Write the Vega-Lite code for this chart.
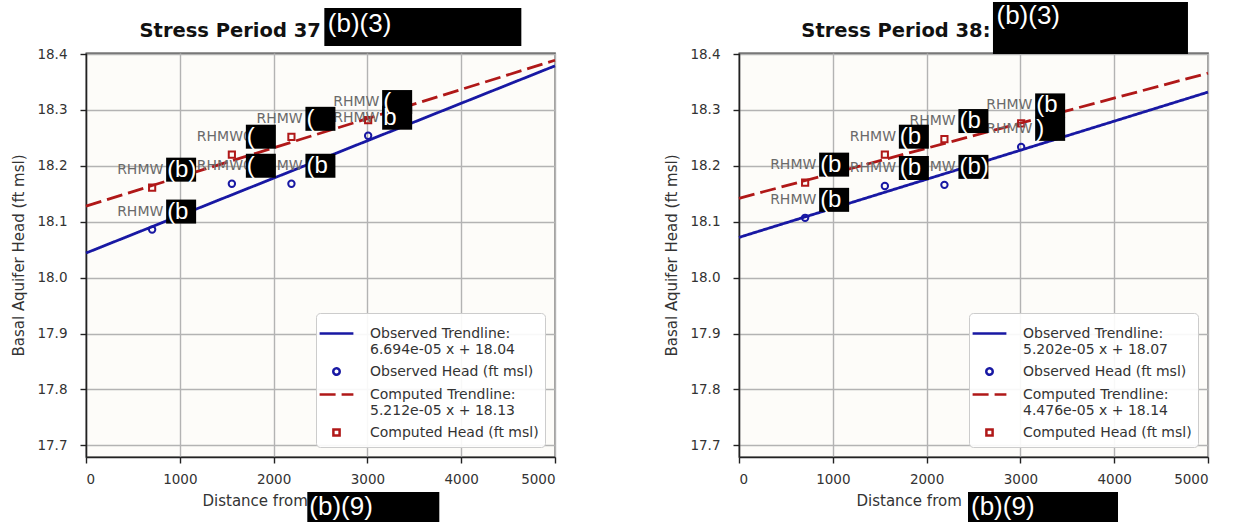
{
  "$schema": "https://vega.github.io/schema/vega-lite/v6.json",
  "background": "white",
  "padding": {"left": 11, "top": 1, "right": 5, "bottom": 0},
  "spacing": 102,
  "config": {
    "font": "DejaVu Sans",
    "view": {"stroke": "#333333", "strokeWidth": 1.3, "fill": "#fdfcf9"},
    "axis": {
      "labelFont": "DejaVu Sans", "labelFontSize": 13.5, "labelColor": "#333333",
      "titleFont": "DejaVu Sans", "titleFontSize": 15, "titleFontWeight": "normal", "titleColor": "#333333",
      "gridColor": "#b3b3b3", "gridWidth": 1.4, "domainColor": "#222222", "domainWidth": 1.5,
      "tickColor": "#222222", "tickWidth": 1.4, "tickSize": 6
    },
    "legend": {
      "orient": "bottom-right", "offset": 10, "title": null,
      "fillColor": "rgba(255,255,255,0.9)", "strokeColor": "#cccccc", "cornerRadius": 4, "padding": 6,
      "labelFont": "DejaVu Sans", "labelFontSize": 14, "labelColor": "#333333", "labelLimit": 400,
      "labelOffset": 19, "rowPadding": 0, "symbolStrokeWidth": 2.5, "symbolSize": 676
    }
  },
  "datasets": {
    "trend37": [
      {"series": "Observed Trendline:|6.694e-05 x + 18.04", "x": 0, "y": 18.044},
      {"series": "Observed Trendline:|6.694e-05 x + 18.04", "x": 5000, "y": 18.379},
      {"series": "Computed Trendline:|5.212e-05 x + 18.13", "x": 0, "y": 18.128},
      {"series": "Computed Trendline:|5.212e-05 x + 18.13", "x": 5000, "y": 18.389}
    ],
    "pts37": [
      {"series": "Observed Head (ft msl)", "x": 705, "y": 18.086},
      {"series": "Observed Head (ft msl)", "x": 1555, "y": 18.168},
      {"series": "Observed Head (ft msl)", "x": 2190, "y": 18.168},
      {"series": "Observed Head (ft msl)", "x": 3008, "y": 18.254},
      {"series": "Computed Head (ft msl)", "x": 705, "y": 18.161},
      {"series": "Computed Head (ft msl)", "x": 1555, "y": 18.22},
      {"series": "Computed Head (ft msl)", "x": 2190, "y": 18.252},
      {"series": "Computed Head (ft msl)", "x": 3008, "y": 18.282}
    ],
    "lab37": [
      {"x": 705, "y": 18.161, "name": "RHMW", "red": "(b)"},
      {"x": 705, "y": 18.086, "name": "RHMW", "red": "(b"},
      {"x": 1555, "y": 18.22, "name": "RHMW0", "red": "("},
      {"x": 1555, "y": 18.168, "name": "RHMW0", "red": "("},
      {"x": 2190, "y": 18.252, "name": "RHMW", "red": "("},
      {"x": 2190, "y": 18.168, "name": "RHMW", "red": "(b"},
      {"x": 3008, "y": 18.282, "name": "RHMW", "red": "("},
      {"x": 3008, "y": 18.254, "name": "RHMW", "red": "b"}
    ],
    "tb37": [{"x": 3591, "y": 18.4485, "red": "(b)(3)", "title": "Stress Period 37"}],
    "ab37": [{"x": 3063, "y": 17.5896, "red": "(b)(9)"}],
    "trend38": [
      {"series": "Observed Trendline:|5.202e-05 x + 18.07", "x": 0, "y": 18.072},
      {"series": "Observed Trendline:|5.202e-05 x + 18.07", "x": 5000, "y": 18.332},
      {"series": "Computed Trendline:|4.476e-05 x + 18.14", "x": 0, "y": 18.142},
      {"series": "Computed Trendline:|4.476e-05 x + 18.14", "x": 5000, "y": 18.366}
    ],
    "pts38": [
      {"series": "Observed Head (ft msl)", "x": 705, "y": 18.107},
      {"series": "Observed Head (ft msl)", "x": 1555, "y": 18.164},
      {"series": "Observed Head (ft msl)", "x": 2190, "y": 18.166},
      {"series": "Observed Head (ft msl)", "x": 3008, "y": 18.234},
      {"series": "Computed Head (ft msl)", "x": 705, "y": 18.17},
      {"series": "Computed Head (ft msl)", "x": 1555, "y": 18.22},
      {"series": "Computed Head (ft msl)", "x": 2190, "y": 18.248},
      {"series": "Computed Head (ft msl)", "x": 3008, "y": 18.276}
    ],
    "lab38": [
      {"x": 705, "y": 18.17, "name": "RHMW", "red": "(b"},
      {"x": 705, "y": 18.107, "name": "RHMW", "red": "(b"},
      {"x": 1555, "y": 18.22, "name": "RHMW", "red": "(b"},
      {"x": 1555, "y": 18.164, "name": "RHMW", "red": "(b"},
      {"x": 2190, "y": 18.248, "name": "RHMW", "red": "(b"},
      {"x": 2190, "y": 18.166, "name": "RHMW", "red": "(b)"},
      {"x": 3008, "y": 18.276, "name": "RHMW", "red": "(b"},
      {"x": 3008, "y": 18.234, "name": "RHMW", "red": ")"}
    ],
    "tb38": [{"x": 3747, "y": 18.4467, "red": "(b)(3)", "title": "Stress Period 38:"}],
    "ab38": [{"x": 3241, "y": 17.5896, "red": "(b)(9)"}]
  },
  "resolve": {
    "scale": {"color": "independent", "shape": "independent", "strokeDash": "independent"},
    "legend": {"color": "independent", "shape": "independent", "strokeDash": "independent"}
  },
  "hconcat": [
    {
      "width": 469, "height": 404,
      "encoding": {
        "x": {"field": "x", "type": "quantitative", "scale": {"domain": [0, 5000], "nice": false, "zero": false},
              "axis": {"values": [0, 1000, 2000, 3000, 4000, 5000], "format": "d", "title": "Distance from", "titleAnchor": "start", "titleAlign": "left", "titleX": 116, "labelPadding": 9, "titlePadding": 8}},
        "y": {"field": "y", "type": "quantitative", "scale": {"domain": [17.679, 18.402], "nice": false, "zero": false},
              "axis": {"values": [17.7, 17.8, 17.9, 18.0, 18.1, 18.2, 18.3, 18.4], "format": ".1f", "title": "Basal Aquifer Head (ft msl)", "labelPadding": 13, "titlePadding": 10}}
      },
      "layer": [
        {
          "data": {"name": "trend37"},
          "mark": {"type": "line", "strokeWidth": 2.8},
          "encoding": {
            "color": {"field": "series", "type": "nominal",
              "scale": {"domain": ["Observed Trendline:|6.694e-05 x + 18.04", "Observed Head (ft msl)", "Computed Trendline:|5.212e-05 x + 18.13", "Computed Head (ft msl)"],
                        "range": ["#1818a3", "#1818a3", "#b01818", "#b01818"]},
              "legend": {"labelExpr": "split(datum.label, '|')"}},
            "strokeDash": {"field": "series", "type": "nominal",
              "scale": {"domain": ["Observed Trendline:|6.694e-05 x + 18.04", "Observed Head (ft msl)", "Computed Trendline:|5.212e-05 x + 18.13", "Computed Head (ft msl)"],
                        "range": [[1, 0], [1, 0], [16, 6], [1, 0]]},
              "legend": {"labelExpr": "split(datum.label, '|')"}}
          }
        },
        {
          "data": {"name": "pts37"},
          "mark": {"type": "point", "filled": false, "strokeWidth": 2, "opacity": 1, "size": 676},
          "encoding": {
            "color": {"field": "series", "type": "nominal",
              "scale": {"domain": ["Observed Trendline:|6.694e-05 x + 18.04", "Observed Head (ft msl)", "Computed Trendline:|5.212e-05 x + 18.13", "Computed Head (ft msl)"],
                        "range": ["#1818a3", "#1818a3", "#b01818", "#b01818"]},
              "legend": {"labelExpr": "split(datum.label, '|')"}},
            "shape": {"field": "series", "type": "nominal",
              "scale": {"domain": ["Observed Trendline:|6.694e-05 x + 18.04", "Observed Head (ft msl)", "Computed Trendline:|5.212e-05 x + 18.13", "Computed Head (ft msl)"],
                        "range": ["M-1.3,0H1.3", "M0.246,0A0.246,0.246,0,1,1,-0.246,0A0.246,0.246,0,1,1,0.246,0Z", "M-1.3,0H1.3", "M-0.238,-0.238H0.238V0.238H-0.238Z"]},
              "legend": {"labelExpr": "split(datum.label, '|')"}}
          }
        },
        {
          "data": {"name": "lab37"},
          "mark": {"type": "text", "align": "left", "baseline": "middle", "dx": -35, "dy": -18, "fontSize": 14, "font": "DejaVu Sans", "color": "#6a6a6a"},
          "encoding": {"text": {"field": "name"}}
        },
        {
          "data": {"name": "lab37"},
          "mark": {"type": "point", "shape": "M-1,-0.8H1V0.8H-1Z", "size": 900, "filled": true, "fill": "#000000", "color": "#000000", "opacity": 1, "strokeWidth": 0, "xOffset": 29, "yOffset": -18}
        },
        {
          "data": {"name": "lab37"},
          "mark": {"type": "text", "align": "left", "baseline": "middle", "dx": 15, "dy": -18, "fontSize": 24, "font": "Liberation Sans", "color": "#ffffff"},
          "encoding": {"text": {"field": "red"}}
        },
        {
          "data": {"name": "tb37"},
          "mark": {"type": "text", "align": "right", "baseline": "middle", "dx": -102, "dy": 4, "fontSize": 19.5, "fontWeight": "bold", "font": "DejaVu Sans", "color": "#111111"},
          "encoding": {"text": {"field": "title"}}
        },
        {
          "data": {"name": "tb37"},
          "mark": {"type": "point", "shape": "M-1,-0.193H1V0.193H-1Z", "size": 38809, "filled": true, "fill": "#000000", "color": "#000000", "opacity": 1, "strokeWidth": 0}
        },
        {
          "data": {"name": "tb37"},
          "mark": {"type": "text", "align": "left", "baseline": "middle", "dx": -95, "dy": -3, "fontSize": 26, "font": "Liberation Sans", "color": "#ffffff"},
          "encoding": {"text": {"field": "red"}}
        },
        {
          "data": {"name": "ab37"},
          "mark": {"type": "point", "shape": "M-1,-0.2273H1V0.2273H-1Z", "size": 17424, "filled": true, "fill": "#000000", "color": "#000000", "opacity": 1, "strokeWidth": 0}
        },
        {
          "data": {"name": "ab37"},
          "mark": {"type": "text", "align": "left", "baseline": "middle", "dx": -64, "dy": 0, "fontSize": 26, "font": "Liberation Sans", "color": "#ffffff"},
          "encoding": {"text": {"field": "red"}}
        }
      ]
    },
    {
      "width": 469, "height": 404,
      "encoding": {
        "x": {"field": "x", "type": "quantitative", "scale": {"domain": [0, 5000], "nice": false, "zero": false},
              "axis": {"values": [0, 1000, 2000, 3000, 4000, 5000], "format": "d", "title": "Distance from", "titleAnchor": "start", "titleAlign": "left", "titleX": 117, "labelPadding": 9, "titlePadding": 8}},
        "y": {"field": "y", "type": "quantitative", "scale": {"domain": [17.679, 18.402], "nice": false, "zero": false},
              "axis": {"values": [17.7, 17.8, 17.9, 18.0, 18.1, 18.2, 18.3, 18.4], "format": ".1f", "title": "Basal Aquifer Head (ft msl)", "labelPadding": 13, "titlePadding": 10}}
      },
      "layer": [
        {
          "data": {"name": "trend38"},
          "mark": {"type": "line", "strokeWidth": 2.8},
          "encoding": {
            "color": {"field": "series", "type": "nominal",
              "scale": {"domain": ["Observed Trendline:|5.202e-05 x + 18.07", "Observed Head (ft msl)", "Computed Trendline:|4.476e-05 x + 18.14", "Computed Head (ft msl)"],
                        "range": ["#1818a3", "#1818a3", "#b01818", "#b01818"]},
              "legend": {"labelExpr": "split(datum.label, '|')"}},
            "strokeDash": {"field": "series", "type": "nominal",
              "scale": {"domain": ["Observed Trendline:|5.202e-05 x + 18.07", "Observed Head (ft msl)", "Computed Trendline:|4.476e-05 x + 18.14", "Computed Head (ft msl)"],
                        "range": [[1, 0], [1, 0], [16, 6], [1, 0]]},
              "legend": {"labelExpr": "split(datum.label, '|')"}}
          }
        },
        {
          "data": {"name": "pts38"},
          "mark": {"type": "point", "filled": false, "strokeWidth": 2, "opacity": 1, "size": 676},
          "encoding": {
            "color": {"field": "series", "type": "nominal",
              "scale": {"domain": ["Observed Trendline:|5.202e-05 x + 18.07", "Observed Head (ft msl)", "Computed Trendline:|4.476e-05 x + 18.14", "Computed Head (ft msl)"],
                        "range": ["#1818a3", "#1818a3", "#b01818", "#b01818"]},
              "legend": {"labelExpr": "split(datum.label, '|')"}},
            "shape": {"field": "series", "type": "nominal",
              "scale": {"domain": ["Observed Trendline:|5.202e-05 x + 18.07", "Observed Head (ft msl)", "Computed Trendline:|4.476e-05 x + 18.14", "Computed Head (ft msl)"],
                        "range": ["M-1.3,0H1.3", "M0.246,0A0.246,0.246,0,1,1,-0.246,0A0.246,0.246,0,1,1,0.246,0Z", "M-1.3,0H1.3", "M-0.238,-0.238H0.238V0.238H-0.238Z"]},
              "legend": {"labelExpr": "split(datum.label, '|')"}}
          }
        },
        {
          "data": {"name": "lab38"},
          "mark": {"type": "text", "align": "left", "baseline": "middle", "dx": -35, "dy": -18, "fontSize": 14, "font": "DejaVu Sans", "color": "#6a6a6a"},
          "encoding": {"text": {"field": "name"}}
        },
        {
          "data": {"name": "lab38"},
          "mark": {"type": "point", "shape": "M-1,-0.8H1V0.8H-1Z", "size": 900, "filled": true, "fill": "#000000", "color": "#000000", "opacity": 1, "strokeWidth": 0, "xOffset": 29, "yOffset": -18}
        },
        {
          "data": {"name": "lab38"},
          "mark": {"type": "text", "align": "left", "baseline": "middle", "dx": 15, "dy": -18, "fontSize": 24, "font": "Liberation Sans", "color": "#ffffff"},
          "encoding": {"text": {"field": "red"}}
        },
        {
          "data": {"name": "tb38"},
          "mark": {"type": "text", "align": "right", "baseline": "middle", "dx": -100, "dy": 3, "fontSize": 19.5, "fontWeight": "bold", "font": "DejaVu Sans", "color": "#111111"},
          "encoding": {"text": {"field": "title"}}
        },
        {
          "data": {"name": "tb38"},
          "mark": {"type": "point", "shape": "M-1,-0.2667H1V0.2667H-1Z", "size": 38025, "filled": true, "fill": "#000000", "color": "#000000", "opacity": 1, "strokeWidth": 0}
        },
        {
          "data": {"name": "tb38"},
          "mark": {"type": "text", "align": "left", "baseline": "middle", "dx": -94, "dy": -12, "fontSize": 26, "font": "Liberation Sans", "color": "#ffffff"},
          "encoding": {"text": {"field": "red"}}
        },
        {
          "data": {"name": "ab38"},
          "mark": {"type": "point", "shape": "M-1,-0.2H1V0.2H-1Z", "size": 22500, "filled": true, "fill": "#000000", "color": "#000000", "opacity": 1, "strokeWidth": 0}
        },
        {
          "data": {"name": "ab38"},
          "mark": {"type": "text", "align": "left", "baseline": "middle", "dx": -72, "dy": 0, "fontSize": 26, "font": "Liberation Sans", "color": "#ffffff"},
          "encoding": {"text": {"field": "red"}}
        }
      ]
    }
  ]
}
